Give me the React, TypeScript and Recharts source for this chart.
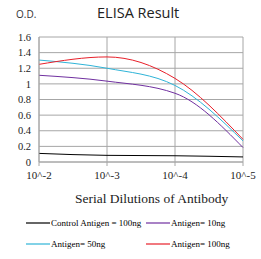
import { LineChart, Line, XAxis, YAxis, CartesianGrid } from 'recharts';

const dilutions = ['10^-2', '10^-3', '10^-4', '10^-5'];
const control100 = [0.11, 0.085, 0.08, 0.065];
const antigen10 = [1.11, 1.035, 0.88, 0.185];
const antigen50 = [1.305, 1.2, 0.98, 0.27];
const antigen100 = [1.25, 1.345, 1.07, 0.29];
const yTicks = [0, 0.2, 0.4, 0.6, 0.8, 1, 1.2, 1.4, 1.6];

const series = [
  { key: 'control', name: 'Control Antigen = 100ng', color: '#000000' },
  { key: 'a10', name: 'Antigen= 10ng', color: '#7030a0' },
  { key: 'a50', name: 'Antigen= 50ng', color: '#2fb4d8' },
  { key: 'a100', name: 'Antigen= 100ng', color: '#e8202a' },
];

const chartData = dilutions.map((d, i) => ({
  x: i,
  control: control100[i],
  a10: antigen10[i],
  a50: antigen50[i],
  a100: antigen100[i],
}));

const serif = '"Liberation Serif", "DejaVu Serif", serif';
const gridColor = '#a6a6a6';

function LegendBox() {
  return (
    <div style={{ position: 'absolute', left: 26, top: 212, fontFamily: serif, fontSize: 9, color: '#000', width: 240 }}>
      {[0, 2].map((row) => (
        <div key={row} style={{ display: 'flex', height: 21, alignItems: 'center' }}>
          {series.slice(row, row + 2).map((s, j) => (
            <div key={s.key} style={{ display: 'flex', alignItems: 'center', width: j === 0 ? 120 : 110 }}>
              <svg width={24} height={4} style={{ marginRight: 1 }}>
                <line x1={0} y1={2} x2={24} y2={2} stroke={s.color} strokeWidth={1.2} />
              </svg>
              <span style={{ whiteSpace: 'nowrap' }}>{s.name}</span>
            </div>
          ))}
        </div>
      ))}
    </div>
  );
}

export default function App() {
  return (
    <div style={{ position: 'absolute', left: 0, top: 0, width: 261, height: 259, background: '#fff' }}>
      <div style={{ position: 'absolute', left: 16, top: 7, fontFamily: '"Open Sans", sans-serif', fontSize: 10, color: '#333' }}>
        O.D.
      </div>
      <div style={{ position: 'absolute', left: 97, top: 3, fontFamily: '"Open Sans", sans-serif', fontSize: 14.5, color: '#222' }}>
        ELISA Result
      </div>
      <div style={{ position: 'absolute', left: 75, top: 192, lineHeight: 1, fontFamily: serif, fontSize: 13.5, color: '#222', whiteSpace: 'nowrap' }}>
        Serial Dilutions of Antibody
      </div>
      <LineChart
        width={261}
        height={259}
        data={chartData}
        margin={{ top: 37, right: 18, left: 0, bottom: 77 }}
        style={{ fontFamily: serif }}
      >
        <CartesianGrid stroke={gridColor} horizontalValues={yTicks} verticalValues={[0, 1, 2, 3]} />
        <XAxis
          dataKey="x"
          type="number"
          domain={[0, 3]}
          ticks={[0, 1, 2, 3]}
          interval={0}
          tickFormatter={(v) => dilutions[v]}
          stroke={gridColor}
          tick={{ fill: '#222', fontFamily: serif, fontSize: 11 }}
          tickSize={4}
          tickMargin={5}
          height={20}
        />
        <YAxis
          type="number"
          domain={[0, 1.6]}
          ticks={yTicks}
          interval={0}
          stroke={gridColor}
          tickLine={false}
          width={39}
          tick={{ fill: '#222', fontFamily: serif, fontSize: 10.5 }}
          tickFormatter={(v) => String(v)}
        />
        {series.map((s) => (
          <Line
            key={s.key}
            type="monotone"
            dataKey={s.key}
            name={s.name}
            stroke={s.color}
            strokeWidth={1}
            dot={false}
            isAnimationActive={false}
          />
        ))}
      </LineChart>
      <LegendBox />
    </div>
  );
}
